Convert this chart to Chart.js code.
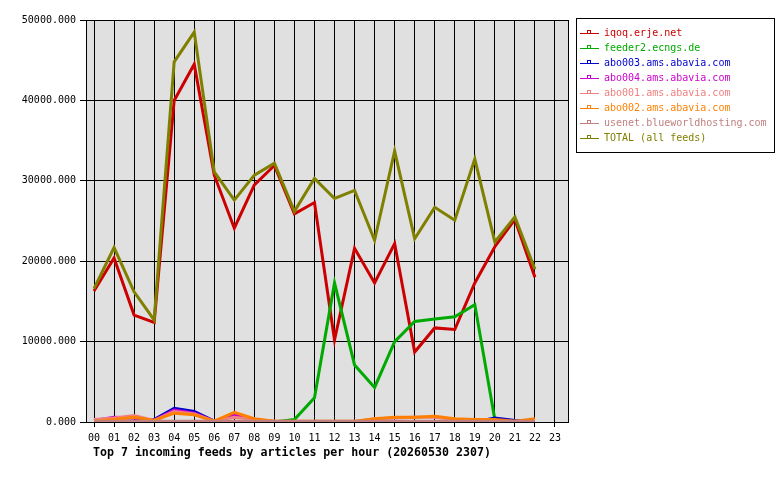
<!DOCTYPE html>
<html>
<head>
<meta charset="utf-8">
<script src="https://cdn.jsdelivr.net/npm/chart.js@4/dist/chart.umd.min.js"></script>
<style>
  body { margin: 0; background: #fff; }
  #wrap { width: 780px; height: 480px; }
</style>
</head>
<body>
<div id="wrap"><canvas id="feedChart" width="780" height="480"></canvas></div>
<script>
// hours on the x axis
const hours = ['00','01','02','03','04','05','06','07','08','09','10','11',
               '12','13','14','15','16','17','18','19','20','21','22','23'];
const yTicks = [0, 10000, 20000, 30000, 40000, 50000];

// feed names (legend order)
const feedNames = ['iqoq.erje.net', 'feeder2.ecngs.de', 'abo003.ams.abavia.com',
  'abo004.ams.abavia.com', 'abo001.ams.abavia.com', 'abo002.ams.abavia.com',
  'usenet.blueworldhosting.com', 'TOTAL (all feeds)'];

// articles per hour, 00..22
const iqoq    = [16300, 20400, 13300, 12400, 40000, 44500, 30700, 24100, 29500, 31900, 25900, 27300,
                 10200, 21600, 17300, 22200, 8700, 11700, 11500, 17300, 21800, 25200, 18000];
const feeder2 = [0, 0, 0, 0, 0, 0, 0, 0, 0, 0, 300, 3000,
                 17300, 7100, 4300, 10000, 12500, 12800, 13100, 14600, 300, 0, 0];
const abo003  = [0, 100, 100, 300, 1700, 1300, 100, 0, 0, 0, 0, 0,
                 0, 0, 0, 0, 0, 0, 0, 0, 500, 200, 0];
const abo004  = [200, 600, 500, 200, 1500, 1100, 100, 900, 300, 0, 0, 0,
                 0, 0, 0, 0, 0, 0, 0, 0, 0, 0, 0];
const abo001  = [300, 500, 800, 200, 1300, 1000, 100, 600, 300, 100, 0, 0,
                 0, 0, 400, 500, 600, 600, 300, 100, 0, 0, 0];
const abo002  = [100, 300, 600, 200, 1100, 900, 100, 1200, 400, 100, 100, 100,
                 100, 100, 400, 600, 600, 700, 400, 300, 300, 100, 400];
const usenet  = [100, 100, 100, 100, 100, 100, 100, 100, 100, 100, 100, 100,
                 100, 100, 100, 100, 100, 100, 100, 100, 100, 100, 100];
const total   = [16600, 21700, 16200, 12700, 44800, 48500, 31100, 27600, 30700, 32200, 26200, 30300,
                 27800, 28800, 22600, 33700, 22800, 26700, 25100, 32700, 22400, 25500, 19000];

const feedColors = ['#cc0000', '#00aa00', '#0000cc', '#cc00cc', '#f08080', '#ff8000', '#c08080', '#808000'];
const feedValues = [iqoq, feeder2, abo003, abo004, abo001, abo002, usenet, total];

const MONO = '"DejaVu Sans Mono", "Liberation Mono", monospace';

// grey plot area + black frame
const plotBg = {
  id: 'plotBg',
  beforeDraw(chart) {
    const a = chart.chartArea, ctx = chart.ctx;
    ctx.save();
    ctx.fillStyle = '#e0e0e0';
    ctx.fillRect(a.left, a.top, a.right - a.left, a.bottom - a.top);
    ctx.restore();
  },
  afterDraw(chart) {
    const a = chart.chartArea, ctx = chart.ctx;
    ctx.save();
    ctx.strokeStyle = '#000';
    ctx.lineWidth = 1;
    ctx.strokeRect(a.left + 0.5, a.top + 0.5, a.right - a.left, a.bottom - a.top);
    ctx.restore();
  }
};

// boxed legend on the right and the caption under the x axis
const boxLegend = {
  id: 'boxLegend',
  afterDraw(chart) {
    const ctx = chart.ctx;
    ctx.save();
    ctx.strokeStyle = '#000';
    ctx.lineWidth = 1;
    ctx.strokeRect(576.5, 18.5, 198, 134);
    ctx.font = '10px ' + MONO;
    ctx.textBaseline = 'middle';
    feedNames.forEach((name, i) => {
      const y = 33 + i * 15;
      ctx.strokeStyle = feedColors[i];
      ctx.beginPath();
      ctx.moveTo(580, y + 0.5);
      ctx.lineTo(599, y + 0.5);
      ctx.stroke();
      ctx.strokeRect(587.5, y - 2.5, 3, 3);
      ctx.fillStyle = feedColors[i];
      ctx.fillText(name, 604, y);
    });
    ctx.fillStyle = '#000';
    ctx.font = 'bold 11.6px ' + MONO;
    ctx.fillText('Top 7 incoming feeds by articles per hour (20260530 2307)', 93, 453);
    ctx.restore();
  }
};

const datasets = feedNames.map((name, i) => ({
  label: name,
  data: feedValues[i].map((v, h) => ({ x: h, y: v })),
  borderColor: feedColors[i],
  backgroundColor: feedColors[i],
  borderWidth: 3,
  pointRadius: 0,
  tension: 0,
  fill: false,
  order: -i   // later feeds painted on top, TOTAL last
}));

new Chart(document.getElementById('feedChart'), {
  type: 'line',
  data: { datasets: datasets },
  options: {
    responsive: false,
    animation: false,
    devicePixelRatio: 1,
    layout: { padding: { left: 0, right: 212, top: 20, bottom: 0 } },
    plugins: { legend: { display: false }, tooltip: { enabled: false } },
    scales: {
      x: {
        type: 'linear',
        min: -0.4,
        max: 23.65,
        afterFit(scale) { scale.height = 58; },
        afterBuildTicks(scale) { scale.ticks = hours.map((h, i) => ({ value: i })); },
        ticks: {
          includeBounds: false,
          autoSkip: false,
          maxRotation: 0,
          padding: 5,
          color: '#000',
          font: { family: MONO, size: 10 },
          callback: (v) => hours[v]
        },
        grid: { color: '#000', lineWidth: 1, tickLength: 5, tickColor: '#000' },
        border: { color: '#000' }
      },
      y: {
        min: 0,
        max: 50000,
        afterFit(scale) { scale.width = 86; },
        afterBuildTicks(scale) { scale.ticks = yTicks.map(v => ({ value: v })); },
        ticks: {
          padding: 4,
          color: '#000',
          font: { family: MONO, size: 10 },
          callback: (v) => v.toFixed(3)
        },
        grid: { color: '#000', lineWidth: 1, tickLength: 6, tickColor: '#000' },
        border: { color: '#000' }
      }
    }
  },
  plugins: [plotBg, boxLegend]
});
</script>
</body>
</html>
